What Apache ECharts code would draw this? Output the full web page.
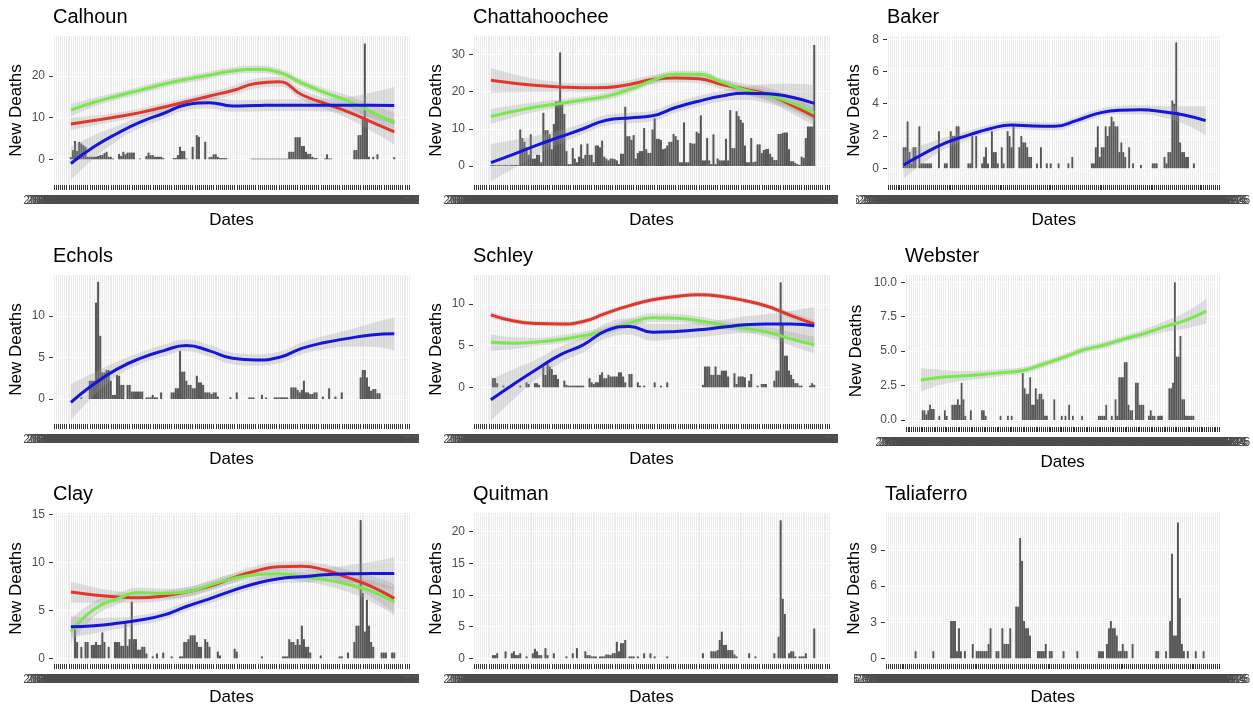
<!DOCTYPE html>
<html><head><meta charset="utf-8">
<script src="https://cdn.jsdelivr.net/npm/echarts@6/dist/echarts.min.js"></script>
<style>html,body{margin:0;padding:0;background:#fff;}#c{width:1253px;height:709px;}</style>
</head><body><div id="c"></div>
<script>
const N = 170;
// date category labels (one per day)
const dates = [];
(function(){ const s = Date.UTC(2020, 2, 10); for (let i = 0; i < N; i++) dates.push(new Date(s + i * 86400000).toISOString().slice(0, 10)); })();

// knot positions (category index) for smoothed trend lines
const smoothX = [8,19,30,41,52,63,74,85,96,107,118,129,140,151,162];

// ---- bar values (new deaths per date) ----
const calhoun = [0,0,0,0,0,0,0,0,0.5,2.2,
 4.4,2,4.2,3.8,3.4,3,0.6,0.6,0.6,0.6,
 0.6,0.8,1,1,1.5,1.8,0.6,0.6,0.2,0,
 0,1.3,0.8,1.8,1.2,1.6,1.6,1.6,1.6,0,
 0,0.2,0,0,0.8,1.6,1,1,0.6,0.6,
 0.6,0.6,0.3,0,0,0,0,0.3,0.3,1,
 3,2,2,0.2,0,0,3,0,5.8,5.4,
 0,0,4.2,0,0.5,0.6,1.2,1.2,0.6,0.3,
 0.3,0.3,0.3,0,0,0,0,0,0,0,
 0,0,0,0,0.15,0.15,0.15,0.15,0.15,0.15,
 0.15,0.15,0.15,0.15,0.15,0.15,0.15,0.15,0.15,0.15,
 0.15,0.15,1.8,1.8,1.8,5.3,5.3,5.3,3.2,3.2,
 1.8,1.3,1.3,0.6,0.3,0.3,0,0,0,0.2,
 1.2,0.2,0.2,0,0,0,0,0,0,0,
 0,0,0,2.2,2.2,5.8,5.8,9.8,27.8,9.8,
 0.6,0,0.6,0,1.2,0,0,0,0,0,
 0,0,0.5,0,0,0,0,0,0,0];
const chattahoochee = [0,0,0,0,0,0,0,0,0.2,0.3,
 0.2,0.2,0.3,0.2,0.2,0.3,0.2,0.2,0.3,0.2,
 0.3,0.2,9.8,7.5,6.5,5,3,8.5,2,2,
 3,3,1,14.3,9.6,9.6,8.5,4.5,11.3,17.3,
 17.3,30.5,17,14,4,0.5,0.5,4.8,2,1,
 2.5,5.8,2,3,6,3,3,1,5.5,5.5,
 5,6.8,2.5,2,1.5,2,2,1.8,1.5,0.5,
 3.3,3.3,15.9,8,8,7,8.3,2,3.5,4,
 4,10.2,4.5,3.5,3.5,9.8,12.8,7.3,7.3,7,
 4.5,4.7,5.5,6.5,6.5,8.6,8,7,1,1,
 11.7,1,1,6.2,6,6,9.2,8.8,13.6,1.5,
 1.5,7.5,1.5,0.5,8.5,0.5,2,1.5,1.5,1.5,
 7.3,1.5,15,4.8,4.8,14.7,13.4,12.4,11.6,5.5,
 1,1,7.5,1,1.2,5.8,5.8,3.5,4.3,4.5,
 4.6,3.3,2.4,1.6,1.6,8.6,8.6,8.9,9,9,
 4.5,1.3,1.3,0.8,0.5,0.3,2.5,2.2,7.5,10.6,
 10.6,10.6,32.5,0,0,0,0,0,0,0];
const baker = [0,0,0,0,0,0,0,0,1.3,1.3,
 2.9,1,0.3,1.3,1.3,0,2.6,0.3,0.3,0.3,
 0.3,0.3,0.3,0,0,0,2.3,0,0,0.3,
 0.3,0,2.3,2,2,2.6,2.6,0,0,0,
 0,0.3,0.3,2,0,2,0,0,0.3,0.7,
 1.3,0.3,0,2.3,1,1,0.3,0,1.3,0.3,
 0,2.3,2,1.3,2.6,0,0,1.3,2,1.6,
 1.6,1.3,0.7,0.7,0,0,0.3,0,1.3,0,
 0,0.3,0,0.3,0,0,0,0.3,0,0,
 0,0,0.3,0,0.7,0,0,0,0,0,
 0,0,0,0,0.3,0.3,1.3,2.6,0.7,1.3,
 1.3,2.6,2,2.6,3.2,2.9,2.6,2.6,1,1.6,
 1,0.7,0,1.3,0,0.3,0,0,0,0.2,
 0,0,0,0,0,0.3,0.3,0.3,0,0,
 0,0.7,0.3,1,1,4.2,4,7.8,3.5,1.6,
 1,1,0.7,0.7,0,0,0.3,0,0,0,
 0,0,0,0,0,0,0,0,0,0];
const echols = [0,0,0,0,0,0,0,0,0,0,
 0,0,0,0.2,0,0,0,2.2,2.2,2.2,
 11.6,14.1,7.6,3.2,3.2,3.5,3.5,2.2,0.5,0.5,
 2.9,2.8,1.7,1.7,0,1.7,1.7,0.9,0.9,0.9,
 0.9,0.9,0.9,0,0.2,0.2,0.2,0.5,0.2,0.2,
 0,0.8,0,0,0,0,0.8,0.8,1.3,1.3,
 5.8,3.3,3.3,2.2,1.7,1.7,1.3,1.3,2.8,2,
 2,1.7,0.8,0.8,0.8,0.6,0.8,0.8,0.3,0,
 0,0,0,0,0.2,0,0,0.8,0,0,
 0,0,0,0.2,0.2,0.2,0,0,0,0.5,
 0,0.2,0,0,0,0.2,0.2,0.2,0.2,0.2,
 0.2,0.2,0,1.4,1.4,1.4,1.1,0.8,1.1,2.2,
 0.8,0.8,0.6,0.6,0.8,0.8,0,0,0.3,0,
 0,1.3,0,0,0.3,0,0,0.8,0,0,
 0,0,0,0,0,0,2.6,3.5,3.5,2.6,
 1.5,1,1.2,1.2,0.7,0.7,0,0,0,0,
 0,0,0,0,0,0,0,0,0,0];
const schley = [0,0,0,0,0,0,0,0,0,1.1,
 1.1,0.5,0,0,0.2,0,0,0,0.2,0,
 0,0,0.2,0,0,0.6,0.4,0,0,0.5,
 0.5,0.3,0,2.5,1.5,2.8,2.5,2.2,1.5,1.5,
 1,0,0,0.8,0.3,0.2,0.2,0.2,0.2,0.2,
 0.2,0.2,0.2,0,0,1.1,0.6,0.4,0.6,0.6,
 1.5,1.8,1.1,1.1,1.5,1.3,1.3,1.3,1.3,1.8,
 1.8,1.3,0.6,0,1.6,1.6,0,0,0.6,0.2,
 0,0.2,0,0,0,0,0.6,0,0,0.2,
 0,0,0.6,0,0,0,0,0,0,0,
 0,0,0,0,0,0,0,0,0,0.3,
 2.5,2.5,2.5,1.5,1.5,2.5,1.5,1.5,2,2,
 2,1.3,0,0,1.7,0.4,1.3,1.3,1.3,1.2,
 0,0.8,1.6,0,0,0.2,0,0.4,0.4,0.4,
 0,0,0,0.8,2,2,12.6,7.5,3.8,3.8,
 2,1.5,1,0.5,0.5,0.2,0.2,0,0,0,
 0.2,0.5,0.3,0,0,0,0,0,0,0];
const webster = [0,0,0,0,0,0,0,0,0,0.7,
 0.7,0.4,0.7,1.1,0.8,0.8,0,0,0.3,0,
 0,0.7,0.3,0,0,1.1,1.1,1.1,1.5,1.1,
 2.7,1.5,0.3,0,0,0.7,0,0,0,0,
 0,0.7,0.7,0.3,0,0,0,0,0,0,
 0,0.3,0,0,0,0.3,0,0.3,0,0,
 0,0,0,3.4,2.3,1.9,1.9,3.1,1.1,1.1,
 2.3,1.5,1.9,1.9,1.5,0.3,0.3,0,0,0,
 1.5,0,0,0,0.3,0,0.3,0,1.1,0,
 0.3,0,0,0,0,0.3,0,0,0,0,
 0,0,0,0,0.3,0.3,0.3,0.3,1.1,0,
 0,0.3,0,1.5,0.3,3.1,3.1,3.1,4.2,4.2,
 1.1,0.7,0.7,0,2.7,2.7,1.1,1.1,1.1,0,
 0,0.3,0.7,0.3,0.3,0,0.3,0.3,0.3,0,
 0,0,2.3,2.3,2.7,10,4.6,4.6,6.1,1.5,
 1.5,0.3,0.3,0.3,0.3,0.3,0,0,0,0,
 0,0,0,0,0,0,0,0,0,0];
const clay = [0,0,0,0,0,0,0,0,0,0,
 3,1.7,0,1.2,0,1.7,1.7,0,1.4,1.4,
 1.7,1.4,1.4,2.7,1.7,0,1.2,0,0,1.7,
 1.7,1.7,1.3,1.3,3.8,1.3,2,5.9,2,2,
 0.9,0.9,1.2,1.2,0.5,0,0,0.2,0,0.5,
 0,0,0.6,0,0,0,0.2,0,0,0,
 0.2,0.2,1.7,1.7,2,2.4,2.4,2.4,1.7,1.2,
 1.2,0,2,1.7,1.2,0,0,0,0.7,0.3,
 0,0,0,0,0,0,1,0.7,0,0,
 0,0,0,0,0,0,0,0,0,0.2,
 0,0,0,0,0,0,0,0,0,0.2,
 0.2,0.2,2,1.7,1.7,1.4,2,1.4,3.4,2,
 1.2,1.2,0.6,0,0,0,0,0.3,0,0,
 0,0,0,0,0,0,0.2,0.2,0,0,
 0.6,0,0,1.7,3.4,3.4,14.4,6.8,2.8,6.1,
 3.4,1.7,1.2,0,0,0,0.6,0.6,0.6,0,
 0,0.6,0.6,0,0,0,0,0,0,0];
const quitman = [0,0,0,0,0,0,0,0,0,0.5,
 0.5,0.8,0,0,0,1.1,0,0,0.8,1.1,
 0.5,0.5,0.8,0,0,0.3,0,0,0.8,1.5,
 1.1,0.5,0.5,0,1.6,0.5,0,0,0.8,0,
 0,0,0,0,0.3,0,0,0.8,0,1.6,
 0,0,0,1.1,0.5,0.5,0.3,0.3,0.3,0,
 0.3,0.3,0.3,0.6,0.6,0.5,0.8,0.8,2.6,1.1,
 2.4,2.4,2.9,0,0.3,0.3,0.3,0,0.3,0,
 0,0.8,0,0,0.8,0,0.3,0,0,0,
 0,0,0.3,0,0,0,0,0,0,0,
 0,0,0,0,0,0,0,0,0,0.8,
 0,0,0,1.1,1.1,1.1,1.3,2.9,4.2,2.1,
 2.1,1.3,1.3,1.3,0.6,0.3,0,0,0,0,
 0,0.8,0,0,0.3,0,0,0,0,0,
 0,0,0,0.8,0,3.4,21.8,9.4,7,0,
 0.8,1.1,1.1,0.3,0,0.3,0.3,0.3,0.8,0,
 0,0,4.7,0,0,0,0,0,0,0];
const taliaferro = [0,0,0,0,0,0,0,0,0,0,
 0,0,0,0,0,0.6,0,0,0,0,
 0,0,0,0,0.6,0,0,0,0,0,
 0,0,0,3.1,3.1,3.1,0.6,2.5,0.6,0,
 0.6,0,0,0,1.2,0,0.6,0.6,0.6,0.6,
 0.6,0.6,1.2,2.5,0,0,0.6,0.6,0,2.5,
 1.2,1.2,1.2,2.5,0,0,4.3,4.3,10,8.1,
 3.1,2.5,2.5,1.9,0,0,0,0.6,0.6,0.6,
 0.6,1.2,0,0.6,0.6,0,0,0,0,0,
 0.6,0,0,0,0,0,0,0.6,0,0,
 0,0,0,0,0,0,0,0,0.6,0.6,
 0.6,0,1.2,2.5,3.1,2.5,2.5,1.9,0.6,0.6,
 1.2,0.6,0.6,0,0,1.2,0,0,0,0,
 0,0,0,0,0,0,0,0.6,0.6,0,
 0,0,0.6,0,3.1,8.7,1.9,1.9,11.3,5,
 1.2,0.6,0,0.6,0,0,0,0.6,0,0,
 0,0.6,0,0,0,0,0,0,0,0];

// ---- smoothed trends (value at each knot) and their standard-error half widths ----
const calhounRed = [8.5,9.3,10.2,11.2,12.5,13.8,15.2,16.5,18.2,18.6,15.5,13.4,11.4,9,6.6];
const calhounRedSe = [1.5,1.2,1,1,1,1,1,1.1,1.2,1.2,1.2,1.3,1.6,2.2,3];
const calhounGreen = [11.8,13.7,15.2,16.6,18,19.2,20.2,21.2,21.6,20.9,18.3,16,14,11.4,8.8];
const calhounGreenSe = [1.5,1.1,0.9,0.9,0.9,0.9,0.9,0.9,0.9,0.9,0.9,1,1.3,1.8,2.4];
const calhounBlue = [-1,3,6.2,8.9,11,13.1,13.6,12.8,12.9,13,13,13,13,13,12.9];
const calhounBlueSe = [4,2.8,1.8,1.4,1.3,1.3,1.4,1.4,1.4,1.4,1.4,1.5,2,3,4.5];

const chattRed = [23,22.2,21.6,21.2,21,21.1,21.9,23.2,23.6,23.4,21.9,20.6,19.2,16.4,13.3];
const chattRedSe = [3.4,2.4,1.7,1.3,1.2,1.2,1.2,1.2,1.2,1.2,1.3,1.5,1.8,2.2,2.5];
const chattGreen = [13.3,14.7,15.9,16.8,17.7,18.7,20.5,23,24.6,24.6,22.5,20.4,19,17,14.2];
const chattGreenSe = [2,1.6,1.3,1.1,1,1,1,1,1,1,1,1.1,1.3,1.6,2];
const chattBlue = [0.9,3.2,5.6,7.8,10,12.3,12.9,13.5,15.7,17.4,18.8,19.5,19.4,18.5,16.8];
const chattBlueSe = [5,3.8,2.6,1.8,1.5,1.4,1.4,1.4,1.4,1.4,1.5,1.8,2.6,3.6,5];

const bakerBlue = [0.2,0.95,1.6,2.05,2.45,2.68,2.62,2.6,2.95,3.4,3.6,3.62,3.5,3.3,2.95];
const bakerBlueSe = [0.85,0.55,0.35,0.28,0.25,0.25,0.25,0.25,0.25,0.25,0.25,0.28,0.35,0.55,0.9];

const echolsBlue = [-0.4,1.8,3.6,4.9,5.8,6.45,5.8,4.9,4.7,5,6.1,6.8,7.3,7.7,7.85];
const echolsBlueSe = [2.2,1.4,0.9,0.7,0.7,0.7,0.7,0.7,0.7,0.7,0.7,0.8,1,1.4,2];

const schleyRed = [8.7,7.95,7.65,7.6,7.9,8.9,9.8,10.5,10.9,11.1,10.9,10.4,9.7,8.6,7.6];
const schleyRedSe = [0.4,0.3,0.3,0.3,0.3,0.3,0.3,0.3,0.3,0.3,0.3,0.3,0.3,0.4,0.5];
const schleyGreen = [5.4,5.3,5.45,5.75,6.2,6.8,7.7,8.35,8.3,8,7.5,7.1,6.6,5.8,5.1];
const schleyGreenSe = [1,0.7,0.5,0.5,0.5,0.5,0.5,0.5,0.5,0.5,0.5,0.5,0.6,0.8,1];
const schleyBlue = [-1.5,0.4,2.2,3.9,5.1,6.8,7.3,6.6,6.7,6.9,7.2,7.5,7.6,7.6,7.4];
const schleyBlueSe = [2.5,1.8,1.2,1,0.9,0.9,1,1,0.9,0.9,0.9,1,1.2,1.6,2.2];

const websterGreen = [2.9,3.1,3.2,3.3,3.45,3.6,4.05,4.55,5.1,5.45,5.9,6.3,6.8,7.25,7.9];
const websterGreenSe = [0.85,0.55,0.35,0.3,0.25,0.25,0.25,0.25,0.25,0.25,0.25,0.3,0.4,0.6,0.9];

const clayRed = [6.9,6.6,6.4,6.3,6.5,6.9,7.5,8.35,9.1,9.55,9.6,9.2,8.4,7.5,6.25];
const clayRedSe = [1.1,0.8,0.6,0.5,0.5,0.5,0.5,0.5,0.5,0.5,0.5,0.6,0.8,1.1,1.5];
const clayGreen = [2.8,5.1,6.2,6.85,6.75,6.9,7.6,8.3,8.7,8.8,8.5,8.2,7.7,7,5.9];
const clayGreenSe = [1.3,0.8,0.6,0.5,0.5,0.5,0.5,0.5,0.5,0.5,0.5,0.6,0.8,1.1,1.4];
const clayBlue = [3.3,3.4,3.65,4,4.5,5.4,6.2,7.05,7.8,8.3,8.5,8.7,8.8,8.85,8.85];
const clayBlueSe = [1.1,0.8,0.6,0.5,0.5,0.5,0.5,0.5,0.5,0.5,0.6,0.7,0.9,1.2,1.7];

// ---- panel layout & styling ----
const COLORS = { red: '#e1372a', green: '#78e84a', blue: '#1515dc' };
const panels = [
  { title: 'Calhoun', bars: calhoun, l: 53, t: 36, w: 357, h: 149, min: -6.17, max: 29.6, ticks: [0,10,20], ng: 28,
    lines: [['red', calhounRed, calhounRedSe], ['green', calhounGreen, calhounGreenSe], ['blue', calhounBlue, calhounBlueSe]] },
  { title: 'Chattahoochee', bars: chattahoochee, l: 473, t: 36, w: 357, h: 149, min: -5.1, max: 34.9, ticks: [0,10,20,30], ng: 28,
    lines: [['red', chattRed, chattRedSe], ['green', chattGreen, chattGreenSe], ['blue', chattBlue, chattBlueSe]] },
  { title: 'Baker', bars: baker, l: 887, t: 36, w: 363, h: 149, min: -1.04, max: 8.2, ticks: [0,2,4,6,8], ng: 24,
    lines: [['blue', bakerBlue, bakerBlueSe]] },
  { title: 'Echols', bars: echols, l: 53, t: 275, w: 357, h: 149, min: -3.0, max: 14.92, ticks: [0,5,10,15], ng: 28,
    lines: [['blue', echolsBlue, echolsBlueSe]] },
  { title: 'Schley', bars: schley, l: 473, t: 275, w: 357, h: 149, min: -4.4, max: 13.48, ticks: [0,5,10], ng: 28,
    lines: [['red', schleyRed, schleyRedSe], ['green', schleyGreen, schleyGreenSe], ['blue', schleyBlue, schleyBlueSe]] },
  { title: 'Webster', bars: webster, l: 905, t: 275, w: 345, h: 152, min: -0.51, max: 10.53, ticks: [0,2.5,5,7.5,10], ng: 40, dec: 1,
    lines: [['green', websterGreen, websterGreenSe]] },
  { title: 'Clay', bars: clay, l: 53, t: 513, w: 357, h: 151, min: -0.59, max: 15.14, ticks: [0,5,10,15], ng: 28,
    lines: [['red', clayRed, clayRedSe], ['green', clayGreen, clayGreenSe], ['blue', clayBlue, clayBlueSe]] },
  { title: 'Quitman', bars: quitman, l: 473, t: 513, w: 357, h: 151, min: -0.9, max: 22.95, ticks: [0,5,10,15,20], ng: 28, lines: [] },
  { title: 'Taliaferro', bars: taliaferro, l: 885, t: 513, w: 365, h: 151, min: -0.47, max: 12.08, ticks: [0,3,6,9], ng: 22, lines: [] }
];

const FONT = 'Liberation Sans, Arial, sans-serif';
const grid = [], xAxis = [], yAxis = [], title = [], series = [];
panels.forEach((p, g) => {
  grid.push({ left: p.l, top: p.t, width: p.w, height: p.h, show: true, backgroundColor: '#ebebeb', borderWidth: 0 });
  title.push({ text: p.title, left: p.l, top: p.t - 29, padding: 0,
    textStyle: { fontSize: 20, fontWeight: 'normal', color: '#000', fontFamily: FONT } });
  xAxis.push({ type: 'category', gridIndex: g, data: dates, boundaryGap: true,
    axisLine: { show: false, onZero: false },
    axisTick: { show: true, interval: 0, alignWithLabel: true, length: 5, lineStyle: { color: '#333', width: 1 } },
    axisLabel: { interval: 0, fontSize: 12, color: '#4d4d4d', margin: 10, fontFamily: FONT },
    splitLine: { show: true, interval: 0, lineStyle: { color: '#ffffff', width: 1 } },
    name: 'Dates', nameLocation: 'middle', nameGap: g >= 6 ? 25 : 27,
    nameTextStyle: { fontSize: 17, color: '#000', fontFamily: FONT } });
  yAxis.push({ type: 'value', gridIndex: g, min: p.min, max: p.max, splitNumber: 4,
    axisLine: { show: false, onZero: false },
    axisTick: { show: true, length: 4, lineStyle: { color: '#333', width: 1 }, customValues: p.ticks },
    axisLabel: { fontSize: 12, color: '#4d4d4d', margin: 8, fontFamily: FONT, customValues: p.ticks,
      formatter: v => p.dec ? Number(v).toFixed(p.dec) : String(v) },
    splitLine: { show: true, lineStyle: { color: '#ffffff', width: 1.2 } },
    name: 'New Deaths', nameLocation: 'middle', nameGap: p.ng,
    nameTextStyle: { fontSize: 17, color: '#000', fontFamily: FONT } });

  // zero days carry no bar
  series.push({ type: 'bar', xAxisIndex: g, yAxisIndex: g, data: p.bars.map(v => v === 0 ? '-' : v),
    barCategoryGap: '4%', itemStyle: { color: '#555555' }, silent: true });
  p.lines.forEach(([col, mid, se], k) => {
    const st = 'band' + g + '_' + k;
    const common = { type: 'line', xAxisIndex: g, yAxisIndex: g, smooth: 0.5, symbol: 'none', silent: true };
    series.push(Object.assign({}, common, { stack: st, stackStrategy: 'all', lineStyle: { opacity: 0 },
      data: smoothX.map((x, i) => [x, mid[i] - se[i]]) }));
    series.push(Object.assign({}, common, { stack: st, stackStrategy: 'all', lineStyle: { opacity: 0 },
      areaStyle: { color: 'rgba(153,153,153,0.4)' },
      data: smoothX.map((x, i) => [x, 2 * se[i]]) }));
    series.push(Object.assign({}, common, { lineStyle: { color: COLORS[col], width: 3 },
      data: smoothX.map((x, i) => [x, mid[i]]) }));
  });
});

// each column's panel paints over the tick-label overflow of its left neighbour
const masks = [];
[[194, 856], [433, 873], [672, 854]].forEach(([y, col3Start]) => {
  masks.push({ type: 'rect', left: 419, top: y, shape: { width: 22, height: 16 }, style: { fill: '#fff' }, z: 100, silent: true });
  masks.push({ type: 'rect', left: 838, top: y, shape: { width: col3Start - 838, height: 16 }, style: { fill: '#fff' }, z: 100, silent: true });
});

const chart = echarts.init(document.getElementById('c'), null, { renderer: 'canvas' });
chart.setOption({ animation: false, backgroundColor: '#ffffff', textStyle: { fontFamily: FONT },
  title, grid, xAxis, yAxis, series, graphic: { elements: masks } });
</script></body></html>
